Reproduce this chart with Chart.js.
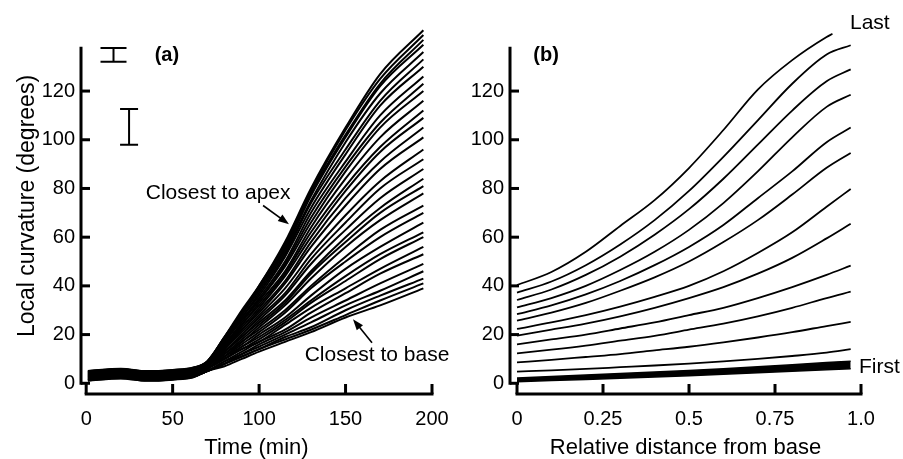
<!DOCTYPE html>
<html>
<head>
<meta charset="utf-8">
<script src="https://cdn.jsdelivr.net/npm/chart.js@4/dist/chart.umd.min.js"></script>
<style>
  body { margin: 0; background: #fff; width: 903px; height: 459px; overflow: hidden; position: relative; }
  canvas { position: absolute; top: 0; }
  #chartA { left: 0; }
  #chartB { left: 450px; }
</style>
</head>
<body>
<canvas id="chartA" width="470" height="459"></canvas>
<canvas id="chartB" width="453" height="459"></canvas>
<script>
// ---- panel (a): curvature vs time, one row per position (base -> apex)
const timeMin = [1, 20, 35, 50, 62, 70, 80, 90, 100, 115, 130, 150, 170, 195];
const curvatureByPosition = [
  [1.0, 2.0, 1.0, 1.5, 2.5, 5, 7, 10, 13, 17, 21, 27, 32, 39],
  [1.1, 2.1, 1.1, 1.6, 2.6, 5, 8, 11, 14, 18, 22, 28, 34, 41],
  [1.3, 2.3, 1.3, 1.8, 2.8, 5, 8, 11, 14, 19, 23, 30, 36, 43],
  [1.4, 2.4, 1.4, 1.9, 2.9, 5, 8, 12, 15, 20, 25, 32, 38, 46],
  [1.5, 2.5, 1.5, 2.0, 3.0, 5, 9, 12, 16, 21, 27, 34, 41, 49],
  [1.6, 2.6, 1.6, 2.1, 3.1, 5, 9, 13, 17, 22, 29, 37, 45, 53],
  [1.8, 2.8, 1.8, 2.3, 3.3, 6, 10, 14, 17, 24, 31, 39, 47, 56],
  [1.9, 2.9, 1.9, 2.4, 3.4, 6, 10, 14, 18, 25, 33, 42, 51, 60],
  [2.0, 3.0, 2.0, 2.5, 3.5, 6, 10, 15, 19, 26, 34, 44, 53, 62],
  [2.1, 3.1, 2.1, 2.6, 3.6, 6, 11, 15, 20, 27, 36, 47, 56, 66],
  [2.3, 3.3, 2.3, 2.8, 3.8, 6, 11, 16, 21, 29, 39, 50, 60, 70],
  [2.4, 3.4, 2.4, 2.9, 3.9, 6, 11, 17, 22, 30, 40, 52, 63, 73],
  [2.5, 3.5, 2.5, 3.0, 4.0, 6, 12, 17, 23, 32, 43, 56, 67, 78],
  [2.6, 3.6, 2.6, 3.1, 4.1, 6, 12, 18, 24, 33, 45, 58, 70, 81],
  [2.8, 3.8, 2.8, 3.3, 4.3, 7, 13, 19, 25, 34, 46, 60, 72, 84],
  [2.9, 3.9, 2.9, 3.4, 4.4, 7, 13, 19, 26, 36, 49, 63, 76, 88],
  [3.0, 4.0, 3.0, 3.5, 4.5, 7, 13, 20, 27, 37, 51, 66, 80, 92],
  [3.1, 4.1, 3.1, 3.6, 4.6, 7, 14, 21, 28, 39, 53, 69, 83, 96],
  [3.3, 4.3, 3.3, 3.8, 4.8, 7, 14, 22, 29, 41, 56, 73, 88, 101],
  [3.4, 4.4, 3.4, 3.9, 4.9, 7, 15, 22, 30, 42, 58, 76, 91, 105],
  [3.5, 4.5, 3.5, 4.0, 5.0, 7, 15, 23, 31, 44, 60, 79, 95, 109],
  [3.6, 4.6, 3.6, 4.1, 5.1, 7, 15, 24, 32, 45, 62, 81, 97, 112],
  [3.8, 4.8, 3.8, 4.3, 5.3, 8, 16, 24, 33, 46, 64, 84, 101, 116],
  [3.9, 4.9, 3.9, 4.4, 5.4, 8, 16, 25, 34, 48, 66, 87, 105, 120],
  [4.0, 5.0, 4.0, 4.5, 5.5, 8, 17, 26, 34, 49, 68, 89, 107, 123],
  [4.1, 5.1, 4.1, 4.6, 5.6, 8, 17, 26, 35, 50, 70, 91, 110, 126],
  [4.3, 5.3, 4.3, 4.8, 5.8, 8, 17, 27, 36, 52, 72, 94, 114, 130],
  [4.4, 5.4, 4.4, 4.9, 5.9, 8, 18, 27, 37, 53, 74, 96, 116, 133],
  [4.5, 5.5, 4.5, 5.0, 6.0, 8, 18, 28, 38, 54, 75, 99, 119, 136],
  [4.6, 5.6, 4.6, 5.1, 6.1, 8, 18, 29, 39, 55, 77, 101, 122, 139],
  [4.8, 5.8, 4.8, 5.3, 6.3, 9, 19, 29, 39, 56, 78, 102, 123, 141],
  [4.9, 5.9, 4.9, 5.4, 6.4, 9, 19, 29, 40, 57, 79, 104, 125, 143],
  [5.0, 6.0, 5.0, 5.5, 6.5, 9, 19, 30, 40, 58, 80, 105, 127, 145]
];
const timeTicks = [0, 50, 100, 150, 200];
const curvTicks = [0, 20, 40, 60, 80, 100, 120];

// scale bars at top left of (a)
const scaleBarTime = [15.8, 24.8];
const scaleBarLow = [132, 98];
const scaleBarHigh = [137.7, 112.6];

// ---- panel (b): curvature vs relative distance, one profile per time (last -> first)
const relDist = [0, 0.1, 0.2, 0.3, 0.4, 0.5, 0.6, 0.7, 0.8, 0.9, 0.97];
const lastDist = [0, 0.1, 0.2, 0.3, 0.4, 0.5, 0.6, 0.7, 0.8, 0.9, 0.917];
const lastProfile = [40.3, 45.7, 54, 64.6, 75.2, 88.4, 104, 120.6, 132.7, 142.2, 143.5];
const profiles = [
  [37.2, 41.8, 48.5, 57, 67, 79, 93, 108, 123, 135, 138.8],
  [34.2, 38.5, 44.5, 52, 61, 71.5, 84, 98, 112, 124, 128.9],
  [31.2, 35, 40, 46.5, 54, 63, 74, 87, 101, 113.5, 118.5],
  [28.4, 32, 36.5, 42, 48.5, 56, 65, 76, 87, 99, 105],
  [25.7, 29, 33, 38, 43.5, 50, 58, 67, 77.5, 88.5, 94.6],
  [22.3, 25, 28, 31.5, 35.5, 40, 46, 53.5, 62, 72.5, 79.8],
  [19.6, 22, 24.5, 27.5, 31, 35, 39.5, 45, 51.5, 59.5, 65.5],
  [16.0, 18, 20, 22.5, 25, 28, 31, 35, 39.5, 44.5, 48.3],
  [12.3, 13.8, 15.5, 17.5, 19.5, 22, 24.5, 27.5, 31, 35, 37.6],
  [8.6, 9.6, 10.8, 12, 13.5, 15, 16.8, 18.8, 21, 23.5, 25.2],
  [4.8, 5.3, 5.9, 6.6, 7.3, 8.1, 9, 10, 11.2, 12.6, 14]
];
// the earliest profiles overlap into one thick band
const firstLow = [0.6, 1.1, 1.6, 2.1, 2.6, 3.1, 3.7, 4.3, 4.9, 5.6, 6.0];
const firstHigh = [2.2, 2.8, 3.4, 4.0, 4.6, 5.3, 6.0, 6.8, 7.6, 8.5, 9.1];
const relTicks = [0, 0.25, 0.5, 0.75, 1];
const relTickLabels = ['0', '0.25', '0.5', '0.75', '1.0'];

Chart.defaults.font.family = "'Liberation Sans', Arial, sans-serif";
Chart.defaults.color = '#000';

function toPoints(xs, ys) {
  return xs.map((x, i) => ({ x: x, y: ys[i] }));
}

function drawArrow(ctx, x1, y1, x2, y2) {
  const a = Math.atan2(y2 - y1, x2 - x1), L = 11, W = 4;
  ctx.lineWidth = 1.6;
  ctx.beginPath();
  ctx.moveTo(x1, y1);
  ctx.lineTo(x2 - L * 0.8 * Math.cos(a), y2 - L * 0.8 * Math.sin(a));
  ctx.stroke();
  ctx.beginPath();
  ctx.moveTo(x2, y2);
  ctx.lineTo(x2 - L * Math.cos(a) + W * Math.sin(a), y2 - L * Math.sin(a) - W * Math.cos(a));
  ctx.lineTo(x2 - L * Math.cos(a) - W * Math.sin(a), y2 - L * Math.sin(a) + W * Math.cos(a));
  ctx.closePath();
  ctx.fill();
}

// detached axes with inward ticks, plus the texts / arrows / scale bars
const frame = {
  id: 'frame',
  afterDatasetsDraw(chart, args, o) {
    const { ctx, chartArea } = chart;
    const x = chart.scales.x, y = chart.scales.y;
    ctx.save();
    ctx.strokeStyle = '#000';
    ctx.fillStyle = '#000';
    ctx.lineWidth = 3;

    const ax = chartArea.left;
    ctx.beginPath();
    ctx.moveTo(ax, y.getPixelForValue(0) + 1.5);
    ctx.lineTo(ax, y.getPixelForValue(o.yTop));
    ctx.stroke();
    curvTicks.forEach(v => {
      const py = y.getPixelForValue(v);
      ctx.beginPath(); ctx.moveTo(ax, py); ctx.lineTo(ax + 9, py); ctx.stroke();
    });

    const ay = chartArea.bottom;
    const x0 = x.getPixelForValue(o.xTicks[0]);
    const x1 = x.getPixelForValue(o.xTicks[o.xTicks.length - 1]);
    ctx.beginPath(); ctx.moveTo(x0 - 1.5, ay); ctx.lineTo(x1 + 1.5, ay); ctx.stroke();
    o.xTicks.forEach(v => {
      const px = x.getPixelForValue(v);
      ctx.beginPath(); ctx.moveTo(px, ay); ctx.lineTo(px, ay - 10); ctx.stroke();
    });

    if (o.scaleBars) {
      ctx.lineWidth = 2;
      scaleBarTime.forEach((t, i) => {
        const px = x.getPixelForValue(t);
        const top = y.getPixelForValue(scaleBarHigh[i]);
        const bot = y.getPixelForValue(scaleBarLow[i]);
        const hw = o.capHalf[i];
        ctx.beginPath();
        ctx.moveTo(px, top); ctx.lineTo(px, bot);
        ctx.moveTo(px - hw, top); ctx.lineTo(px + hw, top);
        ctx.moveTo(px - hw, bot); ctx.lineTo(px + hw, bot);
        ctx.stroke();
      });
    }

    (o.arrows || []).forEach(a => {
      drawArrow(ctx, x.getPixelForValue(a.from[0]), y.getPixelForValue(a.from[1]),
        x.getPixelForValue(a.to[0]), y.getPixelForValue(a.to[1]));
    });

    ctx.textBaseline = 'middle';
    (o.texts || []).forEach(t => {
      ctx.font = t.font;
      ctx.textAlign = t.align || 'center';
      ctx.fillText(t.text, x.getPixelForValue(t.x), y.getPixelForValue(t.y));
    });
    ctx.restore();
  }
};

const FONT = "'Liberation Sans', Arial, sans-serif";

function baseScales(xMin, xMax, xTicks, xLabels, xTitle, yWidth, yTitle) {
  return {
    x: {
      type: 'linear', min: xMin, max: xMax,
      afterBuildTicks: s => { s.ticks = xTicks.map(v => ({ value: v })); },
      afterFit: s => { s.height = 65; },
      grid: { display: false, drawTicks: false },
      border: { display: false },
      ticks: {
        padding: 13, font: { size: 20 }, color: '#000', maxRotation: 0,
        callback: (v, i) => xLabels[i]
      },
      title: { display: true, text: xTitle, font: { size: 22, lineHeight: 1 }, padding: 0, color: '#000' }
    },
    y: {
      min: -4.4, max: 150,
      afterBuildTicks: s => { s.ticks = curvTicks.map(v => ({ value: v })); },
      afterFit: s => { s.width = yWidth; },
      grid: { display: false, drawTicks: false },
      border: { display: false },
      ticks: { padding: 6, font: { size: 20 }, color: '#000' },
      title: { display: !!yTitle, text: yTitle || '', font: { size: 23 }, padding: { top: 14, bottom: 0 }, color: '#000' }
    }
  };
}

// panel (a)
new Chart(document.getElementById('chartA'), {
  type: 'line',
  data: {
    datasets: curvatureByPosition.map(row => ({
      data: toPoints(timeMin, row),
      borderColor: '#000', borderWidth: 2, pointRadius: 0,
      cubicInterpolationMode: 'monotone', clip: false
    }))
  },
  options: {
    responsive: false, animation: false, events: [],
    layout: { padding: { top: 13, right: 38, left: 0, bottom: 0 } },
    plugins: {
      legend: { display: false }, tooltip: { enabled: false },
      frame: {
        yTop: 138.2, xTicks: timeTicks, scaleBars: true, capHalf: [13, 9],
        arrows: [
          { from: [102.3, 73], to: [117.3, 65.3] },
          { from: [165.3, 16.6], to: [154.3, 26.3] }
        ],
        texts: [
          { text: '(a)', x: 46.7, y: 134.5, font: 'bold 20px ' + FONT },
          { text: 'Closest to apex', x: 76.3, y: 78.2, font: '21px ' + FONT },
          { text: 'Closest to base', x: 168.2, y: 11.5, font: '21px ' + FONT }
        ]
      }
    },
    scales: baseScales(-3, 200, timeTicks, timeTicks.map(String), 'Time (min)', 81, 'Local curvature (degrees)')
  },
  plugins: [frame]
});

// panel (b)
const bSets = [{
  data: toPoints(lastDist, lastProfile),
  borderColor: '#000', borderWidth: 1.8, pointRadius: 0, cubicInterpolationMode: 'monotone', clip: false
}];
profiles.forEach(p => bSets.push({
  data: toPoints(relDist, p),
  borderColor: '#000', borderWidth: 1.8, pointRadius: 0, cubicInterpolationMode: 'monotone', clip: false
}));
bSets.push({
  data: toPoints(relDist, firstLow),
  borderColor: '#000', borderWidth: 1.5, pointRadius: 0, fill: false
});
bSets.push({
  data: toPoints(relDist, firstHigh),
  borderColor: '#000', borderWidth: 1.5, pointRadius: 0, fill: '-1', backgroundColor: '#000'
});

new Chart(document.getElementById('chartB'), {
  type: 'line',
  data: { datasets: bSets },
  options: {
    responsive: false, animation: false, events: [],
    layout: { padding: { top: 13, right: 42, left: 0, bottom: 0 } },
    plugins: {
      legend: { display: false }, tooltip: { enabled: false },
      frame: {
        yTop: 138.2, xTicks: relTicks,
        texts: [
          { text: '(b)', x: 0.0845, y: 134.6, font: 'bold 20px ' + FONT },
          { text: 'Last', x: 0.968, y: 148, font: '21px ' + FONT, align: 'left' },
          { text: 'First', x: 0.994, y: 6.5, font: '21px ' + FONT, align: 'left' }
        ]
      }
    },
    scales: baseScales(-0.0204, 1, relTicks, relTickLabels, 'Relative distance from base', 60, null)
  },
  plugins: [frame]
});
</script>
</body>
</html>
